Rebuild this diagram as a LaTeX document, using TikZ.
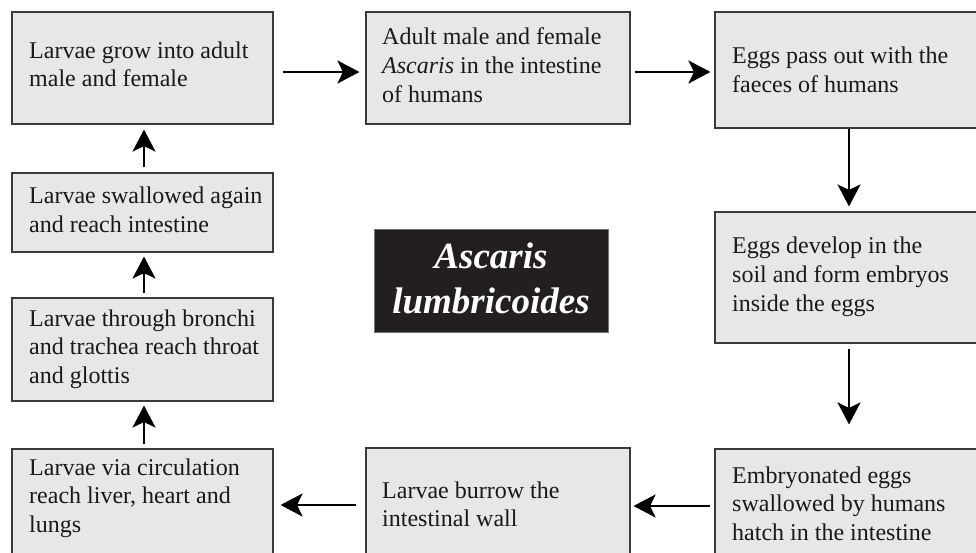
\documentclass[tikz,border=0pt]{standalone}
\usepackage{fontspec}
\setmainfont{Liberation Serif}
\usetikzlibrary{arrows.meta}
\definecolor{boxfill}{HTML}{E6E7E8}
\definecolor{boxline}{HTML}{3A3A3A}
\definecolor{titlefill}{HTML}{231F20}
\newcommand{\mlines}[1]{\begin{tabular}[t]{@{}l@{}}#1\end{tabular}}
\tikzset{
  stagebox/.style={draw=boxline, line width=1.1pt, fill=boxfill, rectangle, inner sep=0pt},
  stagetext/.style={anchor=base west, inner sep=0pt, font=\fontsize{24}{28.7}\selectfont, text=black!90},
  arr/.style={-{Stealth[length=22pt,width=23pt,inset=5.5pt]}, line width=2.5pt, black},
}
\begin{document}
\begin{tikzpicture}[x=1pt,y=-1pt]
\useasboundingbox (0,0) rectangle (976,553);
\clip (0,0) rectangle (976,553);
\fill[white] (0,0) rectangle (976,553);
% boxes
\node[stagebox, minimum width=261pt, minimum height=112pt] (b1) at (142.5,68) {};
\node[stagebox, minimum width=264pt, minimum height=112pt] (b2) at (498,68) {};
\node[stagebox, minimum width=264pt, minimum height=116pt] (b3) at (847,70) {};
\node[stagebox, minimum width=264pt, minimum height=131pt] (b4) at (847,277.5) {};
\node[stagebox, minimum width=264pt, minimum height=112pt] (b5) at (847,505) {};
\node[stagebox, minimum width=264pt, minimum height=112pt] (b6) at (498,504) {};
\node[stagebox, minimum width=261pt, minimum height=112pt] (b7) at (142.5,505) {};
\node[stagebox, minimum width=261pt, minimum height=103pt] (b8) at (142.5,349.5) {};
\node[stagebox, minimum width=261pt, minimum height=79pt] (b9) at (142.5,212.5) {};
% title
\node[fill=titlefill, draw=black!55, line width=0.8pt, minimum width=234pt, minimum height=103pt, inner sep=0pt] (title) at (491,280.5) {};
\node[anchor=base, inner sep=0pt, text=white, font=\fontsize{37}{44}\selectfont\bfseries\itshape] (titletext) at (491,269) {\begin{tabular}[t]{@{}c@{}}Ascaris\\lumbricoides\end{tabular}};
% texts
\node[stagetext] (t1) at (29,58.3) {\mlines{Larvae grow into adult\\male and female}};
\node[stagetext] (t2) at (382,45) {\mlines{Adult male and female\\\textit{Ascaris} in the intestine\\of humans}};
\node[stagetext] (t3) at (732,64) {\mlines{Eggs pass out with the\\faeces of humans}};
\node[stagetext] (t4) at (732,254) {\mlines{Eggs develop in the\\soil and form embryos\\inside the eggs}};
\node[stagetext] (t5) at (732,483) {\mlines{Embryonated eggs\\swallowed by humans\\hatch in the intestine}};
\node[stagetext] (t6) at (382,498) {\mlines{Larvae burrow the\\intestinal wall}};
\node[stagetext] (t7) at (29,475) {\mlines{Larvae via circulation\\reach liver, heart and\\lungs}};
\node[stagetext] (t8) at (29,326) {\mlines{Larvae through bronchi\\and trachea reach throat\\and glottis}};
\node[stagetext] (t9) at (29,204) {\mlines{Larvae swallowed again\\and reach intestine}};
% arrows
\draw[arr, shorten <=9pt, shorten >=6pt] ([yshift=-4pt]b1.east) -- ([yshift=-4pt]b2.west);
\draw[arr, shorten <=4pt, shorten >=4pt] ([yshift=-4pt]b2.east) -- ([yshift=-2pt]b3.west);
\draw[arr, shorten >=5pt] ([xshift=2pt]b3.south) -- ([xshift=2pt]b4.north);
\draw[arr, shorten <=5pt, shorten >=24pt] ([xshift=2pt]b4.south) -- ([xshift=2pt]b5.north);
\draw[arr, shorten <=4pt, shorten >=3pt] ([yshift=-1pt]b5.west) -- ([yshift=-2pt]b6.east);
\draw[arr, shorten <=9pt, shorten >=7pt] ([yshift=-1pt]b6.west) -- (b7.east);
\draw[arr, shorten <=4pt, shorten >=4pt] ([xshift=1.5pt]b7.north) -- ([xshift=1.5pt]b8.south);
\draw[arr, shorten <=4pt, shorten >=4pt] ([xshift=1.5pt]b8.north) -- ([xshift=1.5pt]b9.south);
\draw[arr, shorten <=5pt, shorten >=5pt] ([xshift=1.5pt]b9.north) -- ([xshift=1.5pt]b1.south);
\end{tikzpicture}
\end{document}
